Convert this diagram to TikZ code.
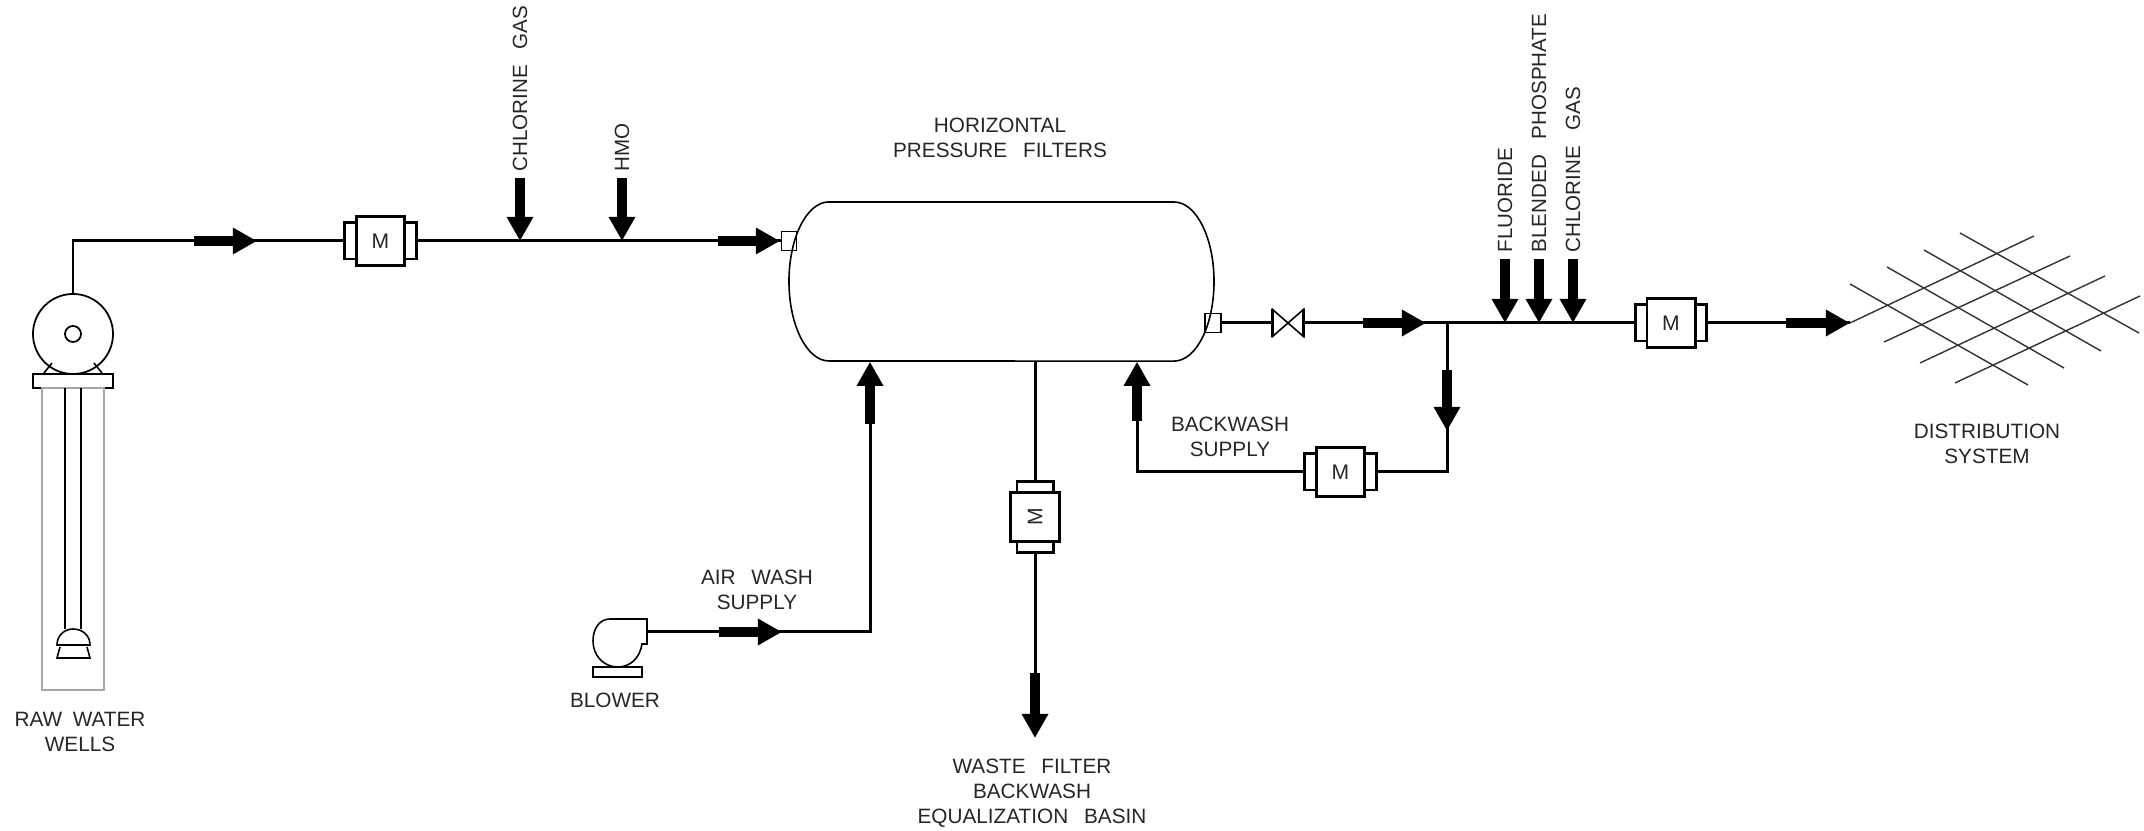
\documentclass[tikz,border=0pt]{standalone}
\usepackage{fontspec}
\setmainfont{Liberation Sans}
\usetikzlibrary{arrows.meta,positioning}
\newcommand{\wgap}{\hspace{4.5pt}}

\begin{document}
\begin{tikzpicture}[
    x=0.01cm, y=-0.01cm,
    pipe/.style={draw, line width=0.85pt},
    flow/.style={draw, line width=2.6pt, -{Triangle[length=2.4mm, width=2.5mm]}},
    thinline/.style={draw, line width=0.45pt},
    flange/.style={draw, line width=0.85pt, inner sep=0pt, minimum width=0.71cm, minimum height=0.36cm},
    meterbox/.style={draw, fill=white, line width=0.85pt, inner sep=0pt, minimum width=0.48cm, minimum height=0.49cm, font=\fontsize{6}{7}\selectfont},
    nozzle/.style={draw, line width=0.45pt, inner sep=0pt, minimum width=0.15cm, minimum height=0.19cm},
    every node/.style={text centered, text=black!85},
    label/.style={align=center, inner sep=0pt, font=\fontsize{5.9}{7.1}\selectfont},
    vlabel/.style={rotate=90, anchor=west, inner sep=0pt, font=\fontsize{5.85}{7}\selectfont}
]
\useasboundingbox (0,0) rectangle (2144,831);

\node[inner sep=0pt, minimum width=4.25cm, minimum height=1.59cm] (tank) at (1001.5,281.5) {};
\draw[thinline] (829,202) -- (1174,202) arc[start angle=90, end angle=-90, x radius=0.4cm, y radius=0.795cm]
    -- (829,361) arc[start angle=270, end angle=90, x radius=0.4cm, y radius=0.795cm] -- cycle;
\node[nozzle] (inlet) at (789,241) {};
\node[nozzle, minimum width=0.16cm] (outlet) at (1213,323) {};

\node[circle, draw, line width=0.5pt, inner sep=0pt, minimum size=0.8cm] (motor) at (73,334) {};
\node[circle, draw, line width=0.5pt, inner sep=0pt, minimum size=0.16cm] at (motor.center) {};
\draw[thinline] (44,373) -- (52,363) (102,373) -- (94,363);
\node[draw, line width=0.7pt, inner sep=0pt, minimum width=0.8cm, minimum height=0.14cm] (plate) at (73,381) {};
\draw[line width=0.55pt, draw=black!35] (42,388) rectangle (104,690);
\draw[line width=0.7pt] (65,388) -- (65,629) (81,388) -- (81,629);
\draw[thinline] (57,645) .. controls (57,635) and (65,629) .. (73,629) .. controls (82,629) and (90,635) .. (90,645) -- cycle;
\draw[thinline] (60,647) -- (57,658) -- (90,658) -- (87,647);

\foreach \name/\xx/\yy in {1/380.5/241, 2/1340.5/472, 3/1671/323} {
    \node[flange] (f\name) at (\xx,\yy) {};
    \node[meterbox] (m\name) at (\xx,\yy) {M};
}
\node[flange, rotate=90] (f4) at (1035,517) {};
\node[meterbox, rotate=90] (m4) at (1035,517) {M};

\node[inner sep=0pt, minimum width=0.3cm, minimum height=0.26cm] (valve) at (1288,323) {};
\draw[thinline] (valve.south west) -- (valve.north east) -- (valve.south east) -- (valve.north west) -- cycle;
\draw[pipe] (valve.south west) -- (valve.north west) (valve.south east) -- (valve.north east);

\coordinate (branch) at (1447,323);
\coordinate (blower) at (647,632);
\coordinate (airtail) at (870,424);
\coordinate (backtail) at (1137,421);
\coordinate (wastetail) at (1035,673);
\coordinate (wastetip) at (1035,738);
\coordinate (grid) at (1850,323);

\draw[pipe] (motor.north) |- (f1.west);
\draw[pipe] (f1) -- (inlet);
\draw[pipe] (outlet) -- (valve);
\draw[pipe] (valve) -- (branch) -- (f3);
\draw[pipe] (f3) -- (grid);
\draw[pipe] (branch) |- (f2);
\draw[pipe] (f2) -| (backtail);
\draw[pipe] (blower) -| (airtail);
\draw[pipe] (m4 |- tank.south) -- (f4);
\draw[pipe] (f4) -- (wastetail);

\foreach \name/\xx/\yy/\xend/\yend in {fa/194/241/257/241, fb/718/241/780/241, fc/1363/323/1426/323, fd/1786/323/1850/323, fe/719/632/782/632, ff/1447/370/1447/431} {
    \coordinate (\name) at (\xx,\yy);
    \coordinate (\name e) at (\xend,\yend);
    \draw[flow] (\name) -- (\name e);
}
\draw[flow] (airtail) -- (airtail |- tank.south);
\draw[flow] (backtail) -- (backtail |- tank.south);
\draw[flow] (wastetail) -- (wastetip);

\foreach \name/\xx/\line/\txt in {
    cla/520/f1/{CHLORINE\wgap GAS},
    hmo/622/f1/{HMO}} {
    \coordinate (\name) at (\xx,178);
    \draw[flow] (\name) -- (\name |- \line);
    \node[vlabel] at ([yshift=0.06cm]\name) {\txt};
}
\foreach \name/\xx/\line/\txt in {
    fluor/1505/f3/{FLUORIDE},
    phos/1539/f3/{BLENDED\wgap PHOSPHATE},
    clb/1573/f3/{CHLORINE\wgap GAS}} {
    \coordinate (\name) at (\xx,259);
    \draw[flow] (\name) -- (\name |- \line);
    \node[vlabel] at ([yshift=0.06cm]\name) {\txt};
}

\draw[thinline] (610,619) -- (647,619) -- (647,644) -- (642,644) .. controls (640,658) and (630,667) .. (618,667)
    .. controls (603,667) and (593,655) .. (593,641) .. controls (593,628) and (600,619) .. (610,619) -- cycle;
\draw[thinline] (593,667) rectangle (642,677);

\foreach \ax/\ay/\bx/\by in {1850/323/2034/236, 1884/342/2070/256, 1920/363/2105/276, 1955/383/2140/296,
    1960/233/2139/333, 1924/250/2101/351, 1887/267/2064/368, 1850/284/2028/385} {
    \draw[line width=0.4pt, draw=black!80] (\ax,\ay) -- (\bx,\by);
}

\node[label] (rawlbl) at (80,732) {RAW\hspace{3pt}WATER\\WELLS};
\node[label] (filterlbl) at (1000,138) {HORIZONTAL\\PRESSURE\wgap FILTERS};
\node[label] (backlbl) at (1230,437) {BACKWASH\\SUPPLY};
\node[label] (airlbl) at (757,590) {AIR\wgap WASH\\SUPPLY};
\node[label] (blowerlbl) at (615,700) {BLOWER};
\node[label] (wastelbl) at (1032,793) {WASTE\wgap FILTER\\BACKWASH\\EQUALIZATION\wgap BASIN};
\node[label] (distlbl) at (1987,444) {DISTRIBUTION\\SYSTEM};

\end{tikzpicture}
\end{document}
